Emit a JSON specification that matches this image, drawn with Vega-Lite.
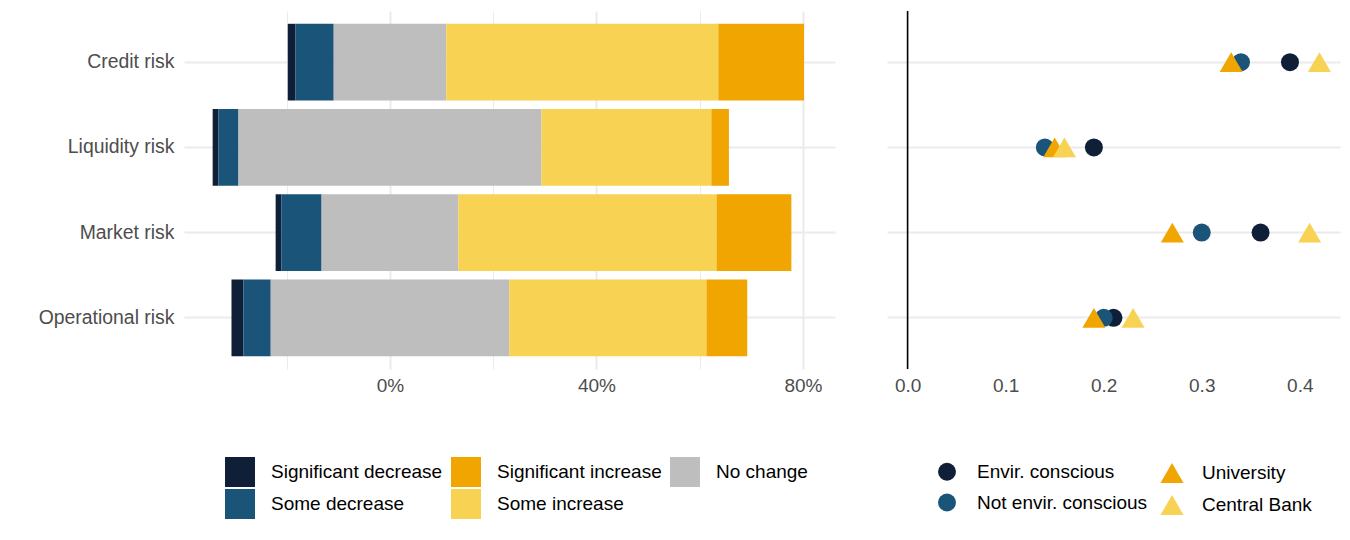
{
  "$schema": "https://vega.github.io/schema/vega-lite/v6.json",
  "background": "white",
  "padding": {"left": 38, "top": 10, "right": 5, "bottom": 0},
  "config": {
    "view": {"stroke": null},
    "font": "Liberation Sans",
    "axis": {
      "labelFontSize": 19,
      "labelColor": "#4d4d4d",
      "ticks": false,
      "domain": false,
      "gridColor": "#ebebeb",
      "title": null
    },
    "legend": {"labelFontSize": 19, "labelColor": "black", "padding": 0, "symbolStrokeWidth": 0, "labelLimit": 0}
  },
  "datasets": {
    "bars": [
      {"risk": "Credit risk", "response": "Significant decrease", "pct": 1.5},
      {"risk": "Credit risk", "response": "Some decrease", "pct": 7.4},
      {"risk": "Credit risk", "response": "No change", "pct": 21.8},
      {"risk": "Credit risk", "response": "Some increase", "pct": 52.7},
      {"risk": "Credit risk", "response": "Significant increase", "pct": 16.6},
      {"risk": "Liquidity risk", "response": "Significant decrease", "pct": 1.1},
      {"risk": "Liquidity risk", "response": "Some decrease", "pct": 3.9},
      {"risk": "Liquidity risk", "response": "No change", "pct": 58.7},
      {"risk": "Liquidity risk", "response": "Some increase", "pct": 32.9},
      {"risk": "Liquidity risk", "response": "Significant increase", "pct": 3.4},
      {"risk": "Market risk", "response": "Significant decrease", "pct": 1.1},
      {"risk": "Market risk", "response": "Some decrease", "pct": 7.8},
      {"risk": "Market risk", "response": "No change", "pct": 26.5},
      {"risk": "Market risk", "response": "Some increase", "pct": 50.0},
      {"risk": "Market risk", "response": "Significant increase", "pct": 14.5},
      {"risk": "Operational risk", "response": "Significant decrease", "pct": 2.3},
      {"risk": "Operational risk", "response": "Some decrease", "pct": 5.3},
      {"risk": "Operational risk", "response": "No change", "pct": 46.2},
      {"risk": "Operational risk", "response": "Some increase", "pct": 38.2},
      {"risk": "Operational risk", "response": "Significant increase", "pct": 7.9}
    ],
    "points": [
      {"risk": "Credit risk", "group": "Envir. conscious", "value": 0.39},
      {"risk": "Credit risk", "group": "Not envir. conscious", "value": 0.34},
      {"risk": "Credit risk", "group": "University", "value": 0.33},
      {"risk": "Credit risk", "group": "Central Bank", "value": 0.42},
      {"risk": "Liquidity risk", "group": "Envir. conscious", "value": 0.19},
      {"risk": "Liquidity risk", "group": "Not envir. conscious", "value": 0.14},
      {"risk": "Liquidity risk", "group": "University", "value": 0.15},
      {"risk": "Liquidity risk", "group": "Central Bank", "value": 0.16},
      {"risk": "Market risk", "group": "Envir. conscious", "value": 0.36},
      {"risk": "Market risk", "group": "Not envir. conscious", "value": 0.30},
      {"risk": "Market risk", "group": "University", "value": 0.27},
      {"risk": "Market risk", "group": "Central Bank", "value": 0.41},
      {"risk": "Operational risk", "group": "Envir. conscious", "value": 0.21},
      {"risk": "Operational risk", "group": "Not envir. conscious", "value": 0.20},
      {"risk": "Operational risk", "group": "University", "value": 0.19},
      {"risk": "Operational risk", "group": "Central Bank", "value": 0.23}
    ]
  },
  "spacing": 52,
  "resolve": {
    "scale": {"color": "independent", "shape": "independent", "size": "independent", "y": "independent", "x": "independent"},
    "legend": {"color": "independent", "shape": "independent", "size": "independent"}
  },
  "hconcat": [
    {
      "width": 651,
      "height": 358,
      "data": {"name": "bars"},
      "transform": [
        {"calculate": "indexof(['Significant decrease','Some decrease','No change','Some increase','Significant increase'], datum.response)", "as": "rank"},
        {"calculate": "datum.rank < 2 ? datum.pct : (datum.rank == 2 ? datum.pct / 2 : 0)", "as": "neg"},
        {"joinaggregate": [{"op": "sum", "field": "neg", "as": "shift"}], "groupby": ["risk"]},
        {"stack": "pct", "groupby": ["risk"], "sort": [{"field": "rank", "order": "ascending"}], "as": ["s0", "s1"]},
        {"calculate": "datum.s0 - datum.shift", "as": "x0"},
        {"calculate": "datum.s1 - datum.shift", "as": "x1"}
      ],
      "mark": {"type": "bar"},
      "encoding": {
        "y": {
          "field": "risk",
          "type": "nominal",
          "sort": ["Credit risk", "Liquidity risk", "Market risk", "Operational risk"],
          "scale": {"type": "band", "paddingInner": 0.1, "paddingOuter": 0.15},
          "axis": {"labelPadding": 10, "labelFontSize": 19.4, "grid": true, "bandPosition": 0.5, "gridWidth": 2}
        },
        "x": {
          "field": "x0",
          "type": "quantitative",
          "scale": {"domain": [-39.9, 86.2], "nice": false, "zero": false},
          "axis": {
            "values": [-20, 0, 20, 40, 60, 80],
            "labelPadding": 7,
            "labelExpr": "datum.value % 40 === 0 ? datum.value + '%' : ''",
            "gridWidth": {"condition": {"test": "datum.value % 40 === 0", "value": 2}, "value": 1}
          }
        },
        "x2": {"field": "x1"},
        "color": {
          "field": "response",
          "type": "nominal",
          "scale": {
            "domain": ["Significant decrease", "Significant increase", "No change", "Some decrease", "Some increase"],
            "range": ["#101f38", "#f0a500", "#bebebe", "#1a5479", "#f8d253"]
          },
          "legend": {
            "title": null,
            "orient": "none",
            "legendX": 41,
            "legendY": 446,
            "direction": "horizontal",
            "columns": 3,
            "symbolType": "square",
            "symbolSize": 900,
            "labelOffset": 16,
            "rowPadding": 2,
            "columnPadding": 8
          }
        }
      }
    },
    {
      "width": 453,
      "height": 358,
      "layer": [
        {
          "data": {"values": [{}]},
          "mark": {"type": "rule", "color": "black", "strokeWidth": 1.6},
          "encoding": {"x": {"datum": 0}}
        },
        {
          "data": {"name": "points"},
          "mark": {"type": "point", "filled": true, "opacity": 1},
          "encoding": {
            "x": {
              "field": "value",
              "type": "quantitative",
              "scale": {"domain": [-0.021, 0.441], "nice": false, "zero": false},
              "axis": {
                "values": [0, 0.05, 0.1, 0.15, 0.2, 0.25, 0.3, 0.35, 0.4],
                "labelPadding": 7,
                "labelExpr": "abs(datum.value * 10 - round(datum.value * 10)) < 0.000001 ? format(datum.value, '.1f') : ''",
                "gridWidth": {"condition": {"test": "abs(datum.value * 10 - round(datum.value * 10)) < 0.000001", "value": 2}, "value": 1}
              }
            },
            "y": {
              "field": "risk",
              "type": "nominal",
              "sort": ["Credit risk", "Liquidity risk", "Market risk", "Operational risk"],
              "scale": {"type": "band", "paddingInner": 0.1, "paddingOuter": 0.15},
              "axis": {"labels": false, "labelPadding": 0, "grid": true, "bandPosition": 0.5, "gridWidth": 2}
            },
            "color": {
              "field": "group",
              "type": "nominal",
              "scale": {
                "domain": ["Envir. conscious", "University", "Not envir. conscious", "Central Bank"],
                "range": ["#101f38", "#f0a500", "#1a5479", "#f8d253"]
              },
              "legend": {
                "title": null,
                "orient": "none",
                "legendX": 48,
                "legendY": 450,
                "direction": "horizontal",
                "columns": 2,
                "labelOffset": 18,
                "rowPadding": 10,
                "columnPadding": 12
              }
            },
            "shape": {
              "field": "group",
              "type": "nominal",
              "scale": {
                "domain": ["Envir. conscious", "University", "Not envir. conscious", "Central Bank"],
                "range": ["circle", "triangle-up", "circle", "triangle-up"]
              },
              "legend": {
                "title": null,
                "orient": "none",
                "legendX": 48,
                "legendY": 450,
                "direction": "horizontal",
                "columns": 2,
                "labelOffset": 18,
                "rowPadding": 10,
                "columnPadding": 12
              }
            },
            "size": {
              "field": "group",
              "type": "nominal",
              "scale": {
                "type": "ordinal",
                "domain": ["Envir. conscious", "University", "Not envir. conscious", "Central Bank"],
                "range": [324, 530, 324, 530]
              },
              "legend": {
                "title": null,
                "orient": "none",
                "legendX": 48,
                "legendY": 450,
                "direction": "horizontal",
                "columns": 2,
                "labelOffset": 18,
                "rowPadding": 10,
                "columnPadding": 12
              }
            }
          }
        }
      ]
    }
  ]
}
